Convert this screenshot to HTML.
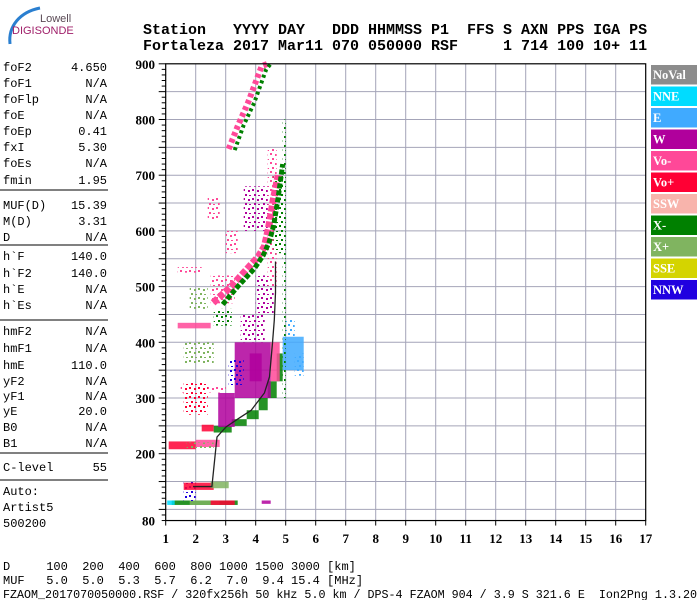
<!DOCTYPE html>
<html><head><meta charset="utf-8"><style>
body{margin:0;background:#fff;}
#wrap{position:relative;width:700px;height:600px;overflow:hidden;background:#fff;font-family:"Liberation Mono",monospace;}
svg{position:absolute;left:0;top:0;}
</style></head><body><div id="wrap">
<svg id="svg" width="700" height="600" viewBox="0 0 700 600">
<defs id="defs"></defs>
<g>
<path d="M10 44 C8 26 20 12 40 8" stroke="#2a7fd0" stroke-width="3" fill="none"/>
<text x="40" y="22" font-family="Liberation Sans,sans-serif" font-size="11" fill="#5a4a55">Lowell</text>
<text x="12" y="34" font-family="Liberation Sans,sans-serif" font-size="11" fill="#a0206a">DIGISONDE</text>
</g>
<g font-family="Liberation Mono,monospace" font-weight="bold" font-size="15" fill="#000">
<text x="143" y="34" xml:space="preserve">Station   YYYY DAY   DDD HHMMSS P1  FFS S AXN PPS IGA PS</text>
<text x="143" y="50" xml:space="preserve">Fortaleza 2017 Mar11 070 050000 RSF     1 714 100 10+ 11</text>
</g>
<g id="left" font-family="Liberation Mono,monospace" font-size="12" fill="#000"></g>
<g id="grid"></g>
<g id="marks"></g>
<g id="axes"></g>
<g id="legend"></g>
<g font-family="Liberation Mono,monospace" font-size="12" fill="#000">
<text x="3" y="570" xml:space="preserve">D     100  200  400  600  800 1000 1500 3000 [km]</text>
<text x="3" y="584" xml:space="preserve">MUF   5.0  5.0  5.3  5.7  6.2  7.0  9.4 15.4 [MHz]</text>
<text x="3" y="598" textLength="694" lengthAdjust="spacingAndGlyphs" xml:space="preserve">FZAOM_2017070050000.RSF / 320fx256h 50 kHz 5.0 km / DPS-4 FZAOM 904 / 3.9 S 321.6 E  Ion2Png 1.3.20</text>
</g>
</svg></div>
<script>
const xTicks=[1,2,3,4,5,6,7,8,9,10,11,12,13,14,15,16,17];
const yTicks=[80,200,300,400,500,600,700,800,900];
const legendNames=["NoVal","NNE","E","W","Vo-","Vo+","SSW","X-","X+","SSE","NNW"];
const legendColors=["#8c8c8c","#00dcff","#40aaff","#b0009c","#ff4898","#ff0034","#f8b4ac","#008000","#80b460","#d4d400","#2000e0"];
// echo patches: f0,f1 (MHz), h0,h1 (km), colour code, density (1 = solid)
const patchF0=[1.2,1.8,2.5,4.2,1.6,1.6,2.5,1.1,2.0,1.7,2.2,2.6,3.2,3.7,4.1,4.4,4.7,2.75,3.3,3.5,3.8,4.0,3.1,4.9,5.0,4.5,1.4,1.4,1.5,1.6,4.9,4.4,1.05,1.6,2.6,2.5,1.8,3.0,2.4,5.3,4.6,3.6];
const patchF1=[3.4,2.8,3.3,4.5,2.0,2.6,3.1,2.0,2.8,2.6,2.6,3.2,3.7,4.1,4.4,4.7,4.9,3.3,4.5,4.3,4.2,4.6,3.6,5.6,5.3,4.8,2.5,2.2,3.0,2.6,5.0,4.7,1.3,2.4,3.2,3.3,2.4,3.4,2.8,5.6,5.0,4.4];
const patchH0=[108,108,108,110,115,135,138,208,212,210,240,238,250,262,278,300,330,248,300,400,330,450,320,350,410,330,425,525,310,360,300,500,108,270,430,470,460,560,620,340,560,600];
const patchH1=[116,116,116,116,150,148,150,222,225,220,252,250,262,278,300,330,380,309,400,450,380,520,370,410,440,400,435,535,322,400,800,750,116,330,460,520,500,600,660,380,700,680];
const patchC=["X-","X+","Vo+","W","NNW","Vo+","X+","Vo+","Vo-","X+","Vo+","X-","X-","X-","X-","X-","X-","W","W","W","W","W","NNW","E","E","Vo-","Vo-","Vo-","Vo-","X+","X-","Vo-","NNE","Vo+","X-","Vo-","X+","Vo-","Vo-","E","X-","W"];
const patchDense=[1,1,1,1,0,1,1,1,1,0,1,1,1,1,1,1,1,1,1,0,1,0,0,1,0,1,1,0,0,0,0,0,1,0,0,0,0,0,0,0,0,0];

const hop2F=[2.58,3.18,3.75,4.09,4.29,4.42,4.6,4.75];
const hop2H=[471,500,534,554,572,603,660,700];
const hop2gF=[2.9,3.4,3.95,4.25,4.45,4.6,4.75,4.9];
const hop2gH=[468,500,532,556,580,610,660,720];
const hop3F=[3.1,3.4,3.75,3.95,4.2,4.4];
const hop3H=[747,788,831,860,896,900];
const hop3gF=[3.3,3.6,3.95,4.15,4.35,4.5];
const hop3gH=[745,790,830,860,890,900];
const traceF=[1.91,2.54,2.71,3.01,3.45,3.85,4.29,4.46,4.56,4.62,4.66,4.66];
const traceH=[141,141,230,248,264,278,309,338,399,440,489,545];

const NS="http://www.w3.org/2000/svg";
const X=f=>165.7+(f-1)*30;
const Y=h=>342.3-(h-400)*0.557;
const col=c=>legendColors[legendNames.indexOf(c)];
function mk(tag,attrs,parent){const e=document.createElementNS(NS,tag);for(const k in attrs)e.setAttribute(k,attrs[k]);parent.appendChild(e);return e;}
const grid=document.getElementById('grid'),marks=document.getElementById('marks'),axes=document.getElementById('axes'),legend=document.getElementById('legend'),left=document.getElementById('left'),defs=document.getElementById('defs');

const speck=[[0,0,2,2],[5,1,2,2],[2,5,2,2],[6,6,2,1]];
legendNames.forEach((n,i)=>{const p=mk('pattern',{id:'pat'+i,width:9,height:9,patternUnits:'userSpaceOnUse'},defs);
 speck.forEach(s=>mk('rect',{x:s[0],y:s[1],width:s[2],height:s[3],fill:legendColors[i]},p));});
const pat=c=>'url(#pat'+legendNames.indexOf(c)+')';

for(let f=2;f<=16;f++){const l=mk('line',{x1:X(f),x2:X(f),y1:Y(900),y2:Y(80),stroke:'#a4a4b8','stroke-width':1},grid);

}
for(let h=100;h<=850;h+=50){const l=mk('line',{x1:X(1),x2:X(17),y1:Y(h),y2:Y(h),stroke:'#a4a4b8','stroke-width':1},grid);

}

for(let i=0;i<patchF0.length;i++){
 const r=mk('rect',{x:X(patchF0[i]),y:Y(patchH1[i]),width:X(patchF1[i])-X(patchF0[i]),height:Y(patchH0[i])-Y(patchH1[i]),fill:patchDense[i]?col(patchC[i]):pat(patchC[i]),'fill-opacity':patchDense[i]?0.85:1},marks);
 
 
}
function poly(F,H,c,w,dash,name){
 const pts=F.map((f,i)=>X(f)+','+Y(H[i])).join(' ');
 const p=mk('polyline',{points:pts,fill:'none',stroke:c,'stroke-width':w,'stroke-dasharray':dash},marks);
 
 
}
poly(hop2F,hop2H,col("Vo-"),7,"6 2","second-hop-o-trace");
poly(hop2gF,hop2gH,col("X-"),5,"5 2","second-hop-x-trace");
poly(hop3F,hop3H,col("Vo-"),6,"4 3","third-hop-o-trace");
poly(hop3gF,hop3gH,col("X-"),4,"3 3","third-hop-x-trace");
poly(traceF,traceH,"#222",1.3,"","inverted-profile-line");

const fr=mk('rect',{x:X(1),y:Y(900),width:X(17)-X(1),height:Y(80)-Y(900),fill:'none',stroke:'#000','stroke-width':1.2},axes);


for(let h=80;h<=900;h+=10){const len=(h%50===0)?7:4;mk('line',{x1:X(1)-len,x2:X(1),y1:Y(h),y2:Y(h),stroke:'#000','stroke-width':1},axes);}
yTicks.forEach(h=>{const t=mk('text',{x:155,y:Y(h)+5,'text-anchor':'end','font-family':'Liberation Serif,serif','font-weight':'bold','font-size':13},axes);t.textContent=h;

});
xTicks.forEach(f=>{mk('line',{x1:X(f),x2:X(f),y1:Y(80),y2:Y(80)+5,stroke:'#000'},axes);
const t=mk('text',{x:X(f),y:543,'text-anchor':'middle','font-family':'Liberation Serif,serif','font-weight':'bold','font-size':13},axes);t.textContent=f;

});

legendNames.forEach((n,i)=>{const y=65+i*21.5;
 const r=mk('rect',{x:651,y:y,width:46,height:19.5,fill:legendColors[i]},legend);
 
 
 const t=mk('text',{x:653,y:y+14,'font-family':'Liberation Serif,serif','font-weight':'bold','font-size':12.5,fill:'#fff'},legend);t.textContent=n;
 
 });

const rows=[["foF2","4.650",71],["foF1","N/A",87],["foFlp","N/A",103],["foE","N/A",119],["foEp","0.41",135],["fxI","5.30",151],["foEs","N/A",167],["fmin","1.95",184],
["MUF(D)","15.39",209],["M(D)","3.31",225],["D","N/A",241],
["h`F","140.0",260],["h`F2","140.0",277],["h`E","N/A",293],["h`Es","N/A",309],
["hmF2","N/A",335],["hmF1","N/A",352],["hmE","110.0",369],["yF2","N/A",385],["yF1","N/A",400],["yE","20.0",415],["B0","N/A",431],["B1","N/A",447],
["C-level","55",471],["Auto:","",495],["Artist5","",511],["500200","",527]];
rows.forEach(r=>{const a=mk('text',{x:3,y:r[2]},left);a.textContent=r[0];
 
 
 if(r[1]){const b=mk('text',{x:107,y:r[2],'text-anchor':'end'},left);b.textContent=r[1];
 
 }});
[190,245,320,453,480].forEach(y=>{const l=mk('line',{x1:0,x2:108,y1:y,y2:y,stroke:'#000','stroke-width':1},left);
 
 });
</script></body></html>
